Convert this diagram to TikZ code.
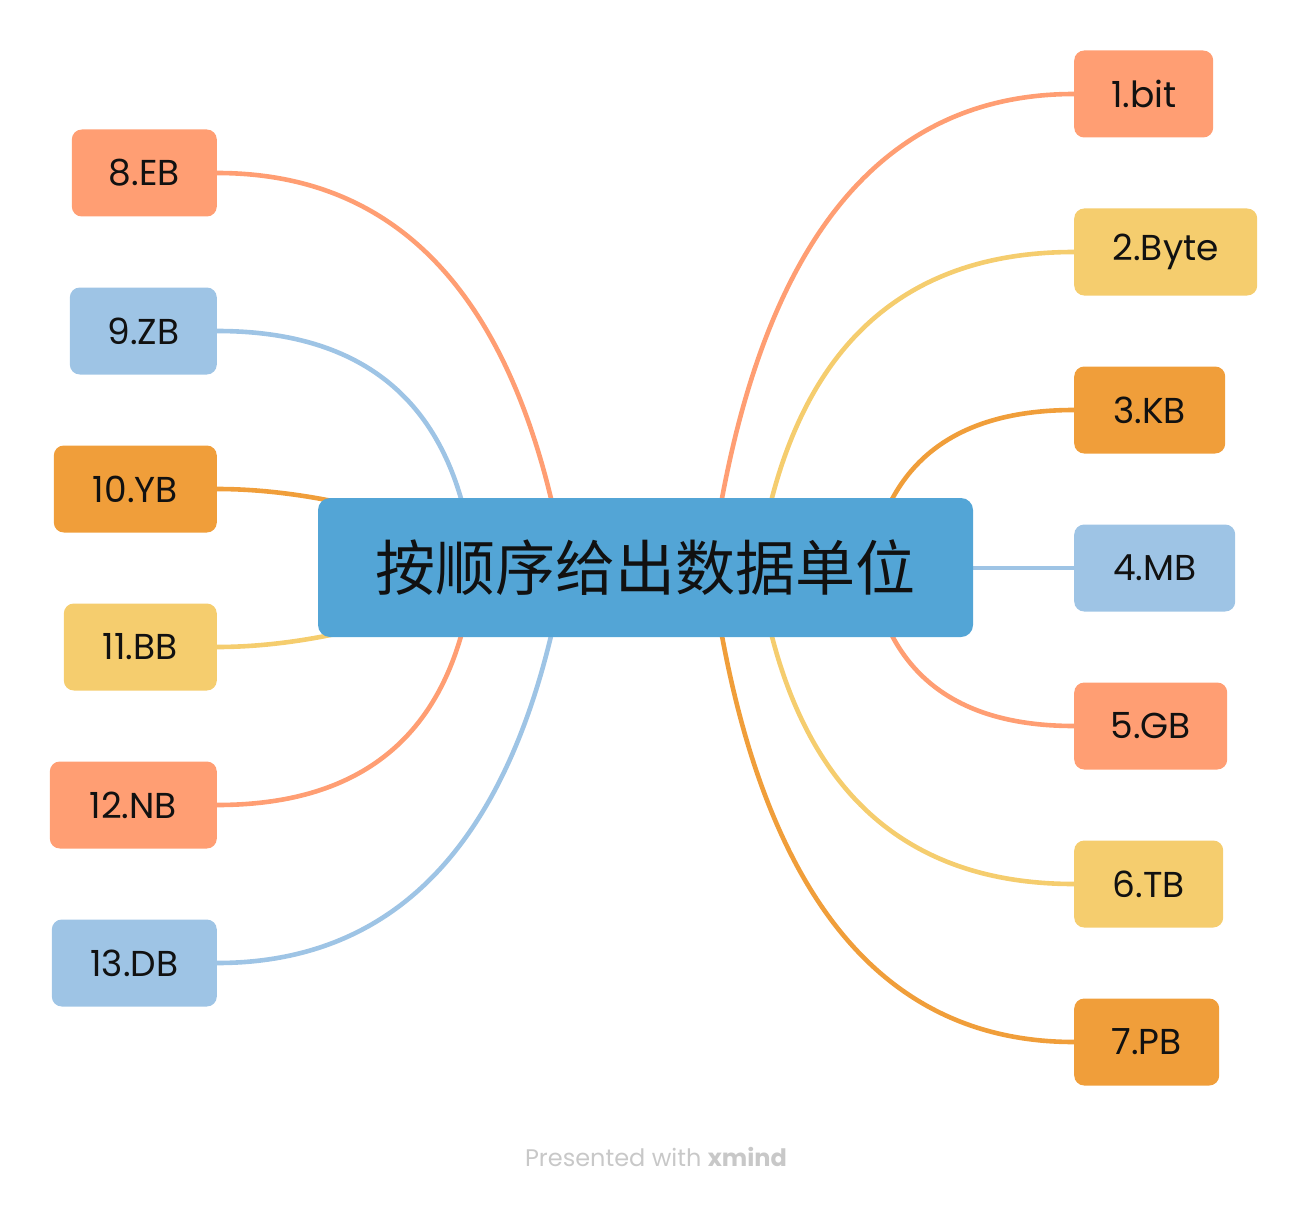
\documentclass[tikz,border=0pt]{standalone}
\usepackage{fontspec}
\setmainfont{Poppins}
\newfontfamily\cjk{Noto Sans CJK SC}
\usetikzlibrary{calc,backgrounds}
\definecolor{csalmon}{HTML}{FF9E73}
\definecolor{cyellow}{HTML}{F5CD6E}
\definecolor{corange}{HTML}{F09E3A}
\definecolor{cblue}{HTML}{9EC4E5}
\definecolor{cmain}{HTML}{53A5D6}
\definecolor{ctext}{HTML}{111111}
\definecolor{cwm}{HTML}{C8C8C8}
\newcommand\mmconn[4]{\draw[conn,#4] (#1) .. controls ($(#1)!0.6667!(#2)$) and ($(#3)!0.6667!(#2)$) .. (#3);}
\tikzset{
  leaf/.style={rounded corners=10pt, minimum height=87pt, inner sep=0pt, text=ctext,
    font=\fontsize{36}{42}\selectfont},
  rleaf/.style={leaf, anchor=west},
  lleaf/.style={leaf, anchor=east},
  conn/.style={line width=4.6pt},
  mainbox/.style={fill=cmain, rounded corners=12pt, minimum width=655pt, minimum height=139pt,
    inner sep=0pt, text=ctext, font=\cjk\fontsize{60}{66}\selectfont}
}
\begin{document}
\begin{tikzpicture}[x=1pt,y=-1pt]
\useasboundingbox (0,0) rectangle (1308,1206);
% central topic
\node[mainbox] (c) at (645.5,567.5) {按顺序给出数据单位};
% right leaves
\node[rleaf, fill=csalmon, minimum width=139pt] (n1) at (1074,94) {1.bit};
\node[rleaf, fill=cyellow, minimum width=183pt] (n2) at (1074,252) {2.Byte};
\node[rleaf, fill=corange, minimum width=151pt] (n3) at (1074,410) {3.KB};
\node[rleaf, fill=cblue, minimum width=161pt] (n4) at (1074,568) {4.MB};
\node[rleaf, fill=csalmon, minimum width=153pt] (n5) at (1074,726) {5.GB};
\node[rleaf, fill=cyellow, minimum width=149pt] (n6) at (1074,884) {6.TB};
\node[rleaf, fill=corange, minimum width=145pt] (n7) at (1074,1042) {7.PB};
% left leaves
\node[lleaf, fill=csalmon, minimum width=145pt] (n8) at (217,173) {8.EB};
\node[lleaf, fill=cblue, minimum width=147pt] (n9) at (217,331) {9.ZB};
\node[lleaf, fill=corange, minimum width=163pt] (n10) at (217,489) {10.YB};
\node[lleaf, fill=cyellow, minimum width=153pt] (n11) at (217,647) {11.BB};
\node[lleaf, fill=csalmon, minimum width=167pt] (n12) at (217,805) {12.NB};
\node[lleaf, fill=cblue, minimum width=165pt] (n13) at (217,963) {13.DB};
% watermark
\node[text=cwm, font=\fontsize{24}{28}\selectfont, inner sep=0pt] (wm) at (656,1157) {Presented with \textbf{xmind}};
% connector start points and control points
\coordinate (s1) at (711,567); \coordinate (q1) at (775,94);
\coordinate (s2) at (758,567); \coordinate (q2) at (805,252);
\coordinate (s3) at (870,567); \coordinate (q3) at (896,410);
\coordinate (s5) at (870,567); \coordinate (q5) at (896,726);
\coordinate (s6) at (758,567); \coordinate (q6) at (805,884);
\coordinate (s7) at (711,567); \coordinate (q7) at (775,1042);
\coordinate (s8) at (565,567); \coordinate (q8) at (498,173);
\coordinate (s9) at (474,567); \coordinate (q9) at (449,331);
\coordinate (s10) at (537,567); \coordinate (q10) at (355,489);
\coordinate (s11) at (537,567); \coordinate (q11) at (355,647);
\coordinate (s12) at (474,567); \coordinate (q12) at (449,805);
\coordinate (s13) at (565,567); \coordinate (q13) at (498,963);
\begin{pgfonlayer}{background}
\mmconn{s1}{q1}{n1.west}{csalmon}
\mmconn{s2}{q2}{n2.west}{cyellow}
\mmconn{s3}{q3}{n3.west}{corange}
\draw[conn,cblue] (c.east |- n4.west) -- (n4.west);
\mmconn{s5}{q5}{n5.west}{csalmon}
\mmconn{s6}{q6}{n6.west}{cyellow}
\mmconn{s7}{q7}{n7.west}{corange}
\mmconn{s8}{q8}{n8.east}{csalmon}
\mmconn{s9}{q9}{n9.east}{cblue}
\mmconn{s10}{q10}{n10.east}{corange}
\mmconn{s11}{q11}{n11.east}{cyellow}
\mmconn{s12}{q12}{n12.east}{csalmon}
\mmconn{s13}{q13}{n13.east}{cblue}
\end{pgfonlayer}
\end{tikzpicture}
\end{document}
